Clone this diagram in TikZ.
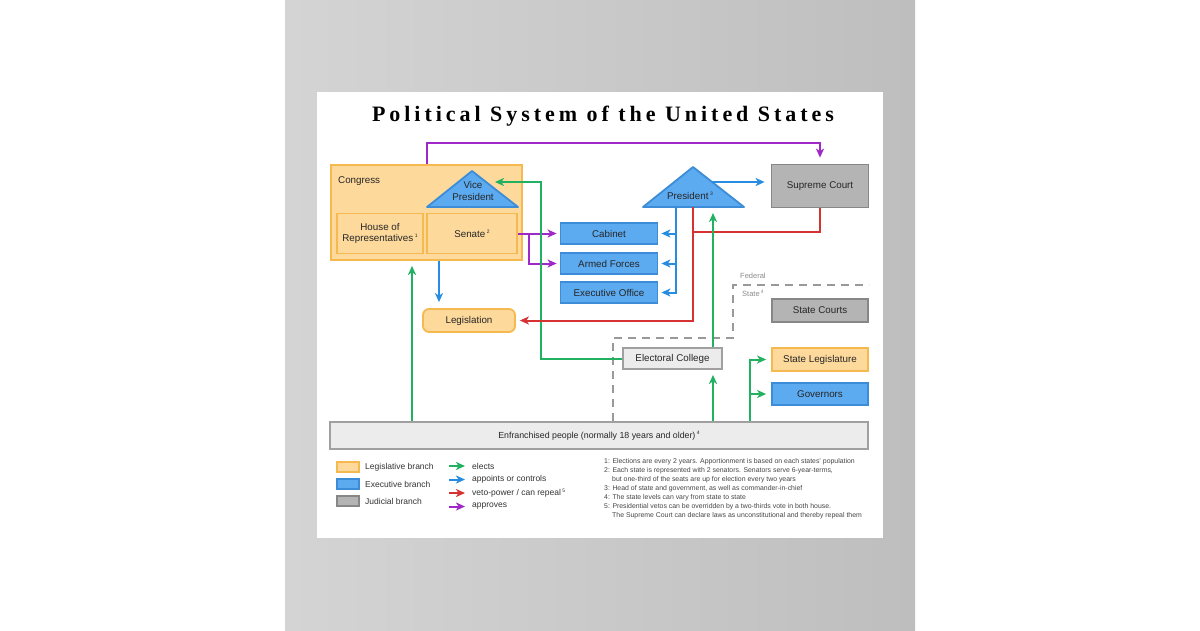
\documentclass[tikz,border=0pt]{standalone}
\usepackage{fontspec}
\setmainfont{Liberation Sans}
\newfontfamily\titlefont[LetterSpace=18]{Liberation Serif}
\usetikzlibrary{positioning,calc,arrows.meta}
\definecolor{legfill}{RGB}{253,217,155}
\definecolor{legdraw}{RGB}{246,185,80}
\definecolor{exefill}{RGB}{92,170,240}
\definecolor{exedraw}{RGB}{60,140,215}
\definecolor{judfill}{RGB}{180,180,180}
\definecolor{juddraw}{RGB}{135,135,135}
\definecolor{colfill}{RGB}{236,236,236}
\definecolor{coldraw}{RGB}{160,160,160}
\definecolor{elcol}{RGB}{34,177,96}
\definecolor{apcol}{RGB}{40,140,225}
\definecolor{vecol}{RGB}{215,50,50}
\definecolor{prcol}{RGB}{160,40,200}
\definecolor{wallA}{RGB}{212,212,212}
\definecolor{wallB}{RGB}{190,190,190}
\definecolor{notecol}{RGB}{70,70,70}
\newcommand{\fnum}[1]{\,\raisebox{0.8ex}{\fontsize{5}{5}\selectfont #1}}
\begin{document}
\begin{tikzpicture}[x=1pt,y=-1pt,>={Stealth[length=9pt,width=8pt,inset=2.5pt]},
  box/.style={draw,line width=1.8pt,inner sep=0pt,minimum width=97pt,minimum height=21pt,
    font=\fontsize{9.8}{11}\selectfont,text=black!85,align=center},
  legbox/.style={box,fill=legfill,draw=legdraw},
  exebox/.style={box,fill=exefill,draw=exedraw},
  judbox/.style={box,fill=judfill,draw=juddraw},
  colbox/.style={box,fill=colfill,draw=coldraw},
  tri/.style={fill=exefill,draw=exedraw,line width=1.8pt,line join=round},
  lbl/.style={font=\fontsize{9.8}{12}\selectfont,text=black!85,inner sep=0pt,align=center},
  small/.style={font=\fontsize{8.5}{10}\selectfont,text=black!80,inner sep=0pt},
  elects/.style={elcol,line width=2pt,->},
  appoints/.style={apcol,line width=2pt,->},
  veto/.style={vecol,line width=2pt,->},
  approves/.style={prcol,line width=2pt,->},
  fedline/.style={black!40,line width=1.8pt,dash pattern=on 8pt off 6pt}]
\useasboundingbox (0,0) rectangle (1200,630);
\fill[white] (0,0) rectangle (1200,630);
\shade[left color=wallA,right color=wallB] (285,0) rectangle (915,630);
\fill[white] (317,92) rectangle (883,538);
\node (title) at (603,116) {\titlefont\bfseries\fontsize{22}{26}\selectfont Political System of the United States};

\node[legbox,minimum width=191pt,minimum height=95pt] (congress) at (426.5,212.5) {};
\node[lbl,anchor=west] (congresslbl) at (338,181) {Congress};
\node[legbox,minimum width=86pt,minimum height=40pt] (house) at (380,233.5) {House of\\Representatives\fnum{1}};
\node[legbox,minimum width=90pt,minimum height=40pt] (senate) at (472,233.5) {Senate\fnum{2}};
\coordinate (vptop) at (472,171);
\coordinate (vpr) at (518,207);
\coordinate (vpl) at (427,207);
\filldraw[tri] (vptop) -- (vpr) -- (vpl) -- cycle;
\node[lbl] (vp) at (473,191) {Vice\\President};

\node[exebox] (cabinet) at (609,233.5) {Cabinet};
\node[exebox] (armed) at (609,263.5) {Armed Forces};
\node[exebox] (execoff) at (609,292.5) {Executive Office};
\coordinate (prestop) at (693,167);
\coordinate (presr) at (744,207);
\coordinate (presl) at (643,207);
\filldraw[tri] (prestop) -- (presr) -- (presl) -- cycle;
\node[lbl] (pres) at (690,196) {President\fnum{3}};
\node[judbox,minimum height=43pt] (supreme) at (820,186) {Supreme Court};
\node[legbox,minimum width=92pt,minimum height=23pt,rounded corners=6pt] (legislation) at (469,320.5) {Legislation};
\node[colbox,minimum width=99pt] (electoral) at (672.5,358.5) {Electoral College};
\node[judbox,minimum width=96pt,minimum height=23pt] (statecourts) at (820,310.5) {State Courts};
\node[legbox,minimum width=96pt,minimum height=23pt] (statelegis) at (820,359.5) {State Legislature};
\node[exebox,minimum width=96pt,minimum height=22pt] (governors) at (820,394) {Governors};
\node[colbox,minimum width=538pt,minimum height=27pt,font=\fontsize{8.8}{10}\selectfont] (people) at (599,435.5) {Enfranchised people (normally 18 years and older)\fnum{4}};

\coordinate (feda) at (613,338);
\coordinate (fedb) at (733,285);
\draw[fedline] (people.north -| feda) -- (feda) -| (fedb) -- (fedb -| statecourts.east);
\node[small,anchor=west,text=black!45,font=\fontsize{7.5}{9}\selectfont] (federal) at (740,276) {Federal};
\node[small,anchor=west,text=black!45,font=\fontsize{7.5}{9}\selectfont] (statelbl) at (742,293) {State\fnum{4}};

\coordinate (rail) at (427,143);
\draw[approves,shorten >=6pt] (congress.north -| rail) -- (rail) -| (supreme.north);
\draw[approves,shorten >=3pt] (senate.east) -- (cabinet.west);
\coordinate (sbr) at ($(senate.east)+(11,0)$);
\draw[approves,shorten >=3pt] (sbr) |- (armed.west);

\coordinate (vpin) at (488,182);
\coordinate (vprail) at (541,182);
\draw[elects,shorten >=7pt] (electoral.west) -| (vprail) -- (vpin);
\coordinate (housex) at (412,0);
\draw[elects,shorten >=5pt] (people.north -| housex) -- (congress.south -| housex);
\coordinate (legx) at (439,0);
\draw[appoints,shorten >=6pt] (congress.south -| legx) -- (legislation.north -| legx);

\coordinate (presout) at (712,182);
\draw[appoints,shorten >=6pt] (presout) -- (presout -| supreme.west);
\coordinate (presa) at (676,207);
\draw[appoints,shorten >=3pt] (presa) |- (execoff.east);
\foreach \n in {cabinet,armed}
  \draw[appoints,shorten >=3pt] (presa |- \n.east) -- (\n.east);
\coordinate (presv) at (693,207);
\draw[veto,shorten >=4pt] (presv) |- (legislation.east);
\coordinate (scv) at (693,232);
\draw[veto,-] (supreme.south) |- (scv);
\coordinate (prese) at (713,207);
\draw[elects,shorten >=6pt] (electoral.north -| prese) -- (prese);
\draw[elects,shorten >=5pt] (people.north -| prese) -- (electoral.south -| prese);
\coordinate (stx) at (750,0);
\draw[elects,shorten >=5pt] (people.north -| stx) |- (statelegis.west);
\draw[elects,shorten >=5pt] (stx |- governors.west) -- (governors.west);

\foreach \s/\t [count=\i] in {legbox/Legislative branch,exebox/Executive branch,judbox/Judicial branch}{
  \node[\s,minimum width=22pt,minimum height=10pt,line width=1.4pt] (key\i) at (348,450+17*\i) {};
  \node[small,anchor=west] (keylbl\i) at (365,450+17*\i) {\t};}
\foreach \s/\t [count=\i] in {elects/elects,appoints/appoints or controls,veto/{veto-power / can repeal\fnum{5}},approves/approves}{
  \coordinate (la\i) at (449,452.5+13.5*\i);
  \coordinate (lb\i) at (465,452.5+13.5*\i);
  \draw[\s] (la\i) -- (lb\i);
  \node[small,anchor=west] (arrlbl\i) at (472,452.5+13.5*\i) {\t};}

\node[anchor=north west,align=left,inner sep=0pt,font=\fontsize{6.9}{9}\selectfont,text=notecol] (notes) at (604,458)
  {1: Elections are every 2 years. Apportionment is based on each states' population\\
   2: Each state is represented with 2 senators. Senators serve 6-year-terms,\\
   \hspace*{8pt}but one-third of the seats are up for election every two years\\
   3: Head of state and government, as well as commander-in-chief\\
   4: The state levels can vary from state to state\\
   5: Presidential vetos can be overridden by a two-thirds vote in both house.\\
   \hspace*{8pt}The Supreme Court can declare laws as unconstitutional and thereby repeal them};
\end{tikzpicture}
\end{document}
